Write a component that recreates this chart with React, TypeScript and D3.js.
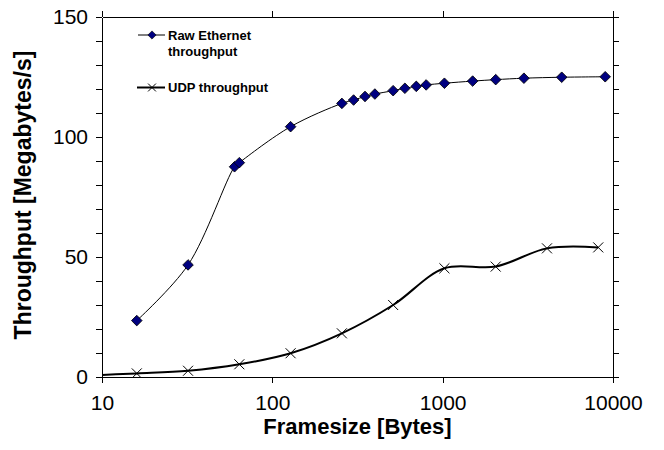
import React, { useEffect, useRef } from "react";
import * as d3 from "d3";

// frame size in bytes -> throughput in megabytes/s
const rawSizes = [16, 32, 60, 64, 128, 256, 300, 350, 400, 512, 600, 700, 800, 1024, 1500, 2048, 3000, 5000, 9000];
const rawThroughput = [23.5, 46.7, 87.6, 89.3, 104.3, 114.0, 115.4, 116.9, 117.9, 119.3, 120.3, 121.1, 121.7, 122.4, 123.3, 123.9, 124.5, 124.9, 125.1];

const udpSizes = [8, 16, 32, 64, 128, 256, 512, 1024, 2048, 4096, 8192];
const udpThroughput = [0.6, 1.5, 2.6, 5.3, 9.9, 18.2, 30.0, 45.3, 46.0, 53.6, 54.0];

const xTicks = [10, 100, 1000, 10000];
const yTicks = [0, 10, 20, 30, 40, 50, 60, 70, 80, 90, 100, 110, 120, 130, 140, 150];
const yLabels = [0, 50, 100, 150];

const font = "'Liberation Sans', Arial, Helvetica, sans-serif";

export default function App() {
  const ref = useRef<SVGSVGElement>(null);

  useEffect(() => {
    const width = 664;
    const height = 450;
    const margin = { top: 17, right: 51, bottom: 73, left: 102 };
    const innerWidth = width - margin.left - margin.right;
    const innerHeight = height - margin.top - margin.bottom;

    const svg = d3.select(ref.current);
    svg.selectAll("*").remove();

    const x = d3.scaleLog().domain([10, 10000]).range([0, innerWidth]);
    const y = d3.scaleLinear().domain([0, 150]).range([innerHeight, 0]);

    const g = svg.append("g").attr("transform", `translate(${margin.left},${margin.top})`);

    svg.append("defs").append("clipPath").attr("id", "plotclip")
      .append("rect").attr("x", 0).attr("y", 0).attr("width", innerWidth).attr("height", innerHeight);

    // axes (left/bottom with labels, top/right mirrored)
    const styleAxis = (sel: any) => {
      sel.selectAll("path").attr("stroke", "#000").attr("stroke-width", 1).attr("shape-rendering", "crispEdges");
      sel.selectAll("line").attr("stroke", "#000").attr("stroke-width", 1).attr("shape-rendering", "crispEdges");
      sel.selectAll("text").attr("font-family", font).attr("font-size", 21).attr("fill", "#000");
    };

    g.append("g")
      .attr("transform", `translate(0,${innerHeight})`)
      .call(d3.axisBottom(x).tickValues(xTicks).tickFormat(d3.format("d") as any).tickSize(6).tickSizeOuter(0).tickPadding(12))
      .call(styleAxis);

    g.append("g")
      .call(d3.axisTop(x).tickValues(xTicks).tickFormat(() => "").tickSize(6).tickSizeOuter(0))
      .call(styleAxis);

    g.append("g")
      .call(d3.axisLeft(y).tickValues(yTicks)
        .tickFormat((d: any) => (yLabels.includes(d) ? String(d) : ""))
        .tickSize(6).tickSizeOuter(0).tickPadding(8))
      .call(styleAxis);

    g.append("g")
      .attr("transform", `translate(${innerWidth},0)`)
      .call(d3.axisRight(y).tickValues(yTicks).tickFormat(() => "").tickSize(6).tickSizeOuter(0))
      .call(styleAxis);

    // series
    const rawData = rawSizes.map((s, i) => ({ s, v: rawThroughput[i] }));
    const udpData = udpSizes.map((s, i) => ({ s, v: udpThroughput[i] }));

    const line = d3.line<{ s: number; v: number }>()
      .x(d => x(d.s))
      .y(d => y(d.v))
      .curve(d3.curveCatmullRom.alpha(0.5));

    const plot = g.append("g").attr("clip-path", "url(#plotclip)");

    plot.append("path").datum(udpData)
      .attr("d", line).attr("fill", "none").attr("stroke", "#000").attr("stroke-width", 2);

    plot.append("path").datum(rawData)
      .attr("d", line).attr("fill", "none").attr("stroke", "#000").attr("stroke-width", 1);

    const times = (d3 as any).symbolTimes || d3.symbolCross;
    const crossPath = d3.symbol().type(times).size(67)();
    const diamondPath = d3.symbol().type(d3.symbolSquare).size(56)();

    plot.selectAll(".udp-pt").data(udpData).enter().append("path")
      .attr("class", "udp-pt")
      .attr("transform", d => `translate(${x(d.s)},${y(d.v)})`)
      .attr("d", crossPath).attr("fill", "none").attr("stroke", "#000").attr("stroke-width", 1);

    plot.selectAll(".raw-pt").data(rawData).enter().append("path")
      .attr("class", "raw-pt")
      .attr("transform", d => `translate(${x(d.s)},${y(d.v)}) rotate(45)`)
      .attr("d", diamondPath).attr("fill", "#000080").attr("stroke", "#000").attr("stroke-width", 0.8);

    // legend
    const legend = svg.append("g");
    legend.append("line").attr("x1", 138).attr("x2", 165).attr("y1", 35).attr("y2", 35)
      .attr("stroke", "#000").attr("stroke-width", 1);
    legend.append("path").attr("transform", "translate(152,35) rotate(45)")
      .attr("d", d3.symbol().type(d3.symbolSquare).size(34)()).attr("fill", "#000080").attr("stroke", "#000").attr("stroke-width", 0.6);
    legend.append("text").attr("x", 168).attr("y", 40).text("Raw Ethernet");
    legend.append("text").attr("x", 168).attr("y", 55.5).text("throughput");

    legend.append("line").attr("x1", 137).attr("x2", 165).attr("y1", 87.5).attr("y2", 87.5)
      .attr("stroke", "#000").attr("stroke-width", 2);
    legend.append("path").attr("transform", "translate(152,87.5)")
      .attr("d", d3.symbol().type(times).size(42)()).attr("fill", "none").attr("stroke", "#000").attr("stroke-width", 1);
    legend.append("text").attr("x", 168).attr("y", 92).text("UDP throughput");

    legend.selectAll("text").attr("font-family", font).attr("font-size", 13).attr("font-weight", "bold").attr("fill", "#000");

    // axis titles
    svg.append("text")
      .attr("x", margin.left + innerWidth / 2).attr("y", 434)
      .attr("text-anchor", "middle")
      .attr("font-family", font).attr("font-size", 22).attr("font-weight", "bold")
      .text("Framesize [Bytes]");

    svg.append("text")
      .attr("transform", `translate(31,195) rotate(-90)`)
      .attr("text-anchor", "middle")
      .attr("font-family", font).attr("font-size", 23).attr("font-weight", "bold")
      .text("Throughput [Megabytes/s]");
  }, []);

  return (
    <svg ref={ref} width={664} height={450}
      style={{ position: "absolute", left: 0, top: 0, background: "#fff" }} />
  );
}
